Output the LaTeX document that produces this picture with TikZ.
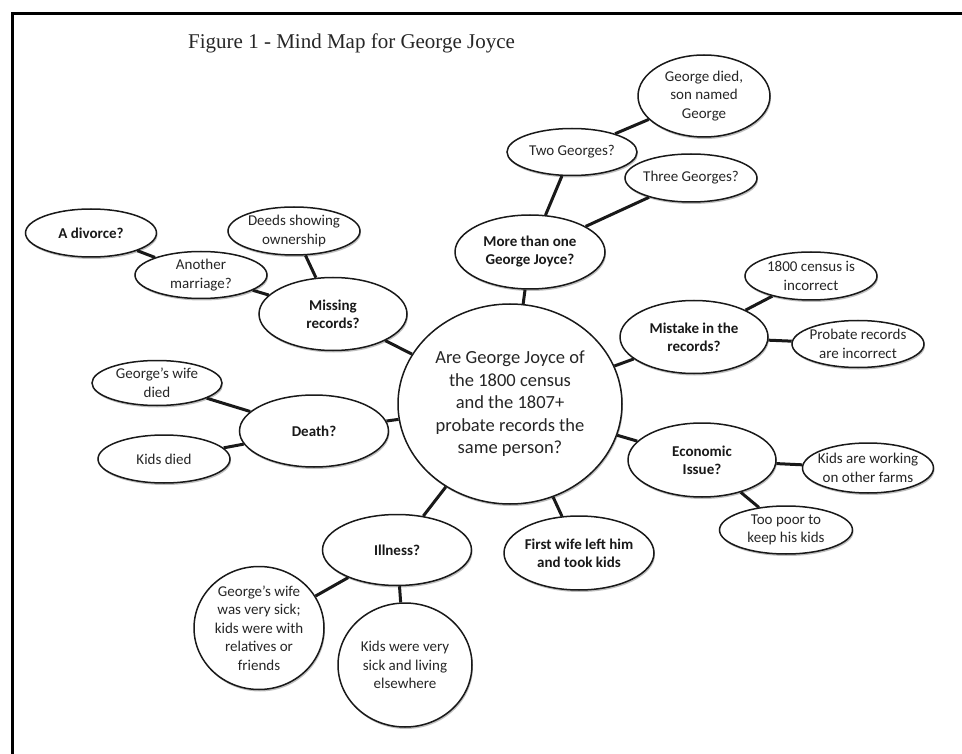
\documentclass[tikz,border=0pt]{standalone}
\usepackage{fontspec}
\setmainfont{Carlito}
\newfontfamily\titlefont{Liberation Serif}
\usetikzlibrary{shapes.geometric,shadows}
\tikzset{
  bub/.style={ellipse, draw=black!90, line width=1.5pt, fill=white, inner sep=0pt,
    drop shadow={shadow xshift=1pt, shadow yshift=-2pt, opacity=0.25, fill=black}},
  txt/.style={font=\fontsize{15}{18.5}\selectfont, align=center, inner sep=0pt, text=black!85},
  btxt/.style={font=\fontsize{15}{18}\selectfont\bfseries, align=center, inner sep=0pt, text=black!90},
  ctxt/.style={font=\fontsize{18.5}{22.5}\selectfont, align=center, inner sep=0pt, text=black!85},
  link/.style={line width=3pt, draw=black!90},
  frame/.style={line width=3pt}
}
\begin{document}
\begin{tikzpicture}[x=1pt,y=-1pt]
\useasboundingbox (0,0) rectangle (962,754);
% frame
\coordinate (fb) at (12.5,754);
\coordinate (fc) at (12.5,13.3);
\coordinate (fr) at (962,13.3);
\draw[frame] (fb) -- (fc) -- (fr);
% title
\node[anchor=base west, inner sep=0pt, font=\titlefont\fontsize{21}{24}\selectfont, text=black!85] (title) at (188,49) {Figure 1 - Mind Map for George Joyce};

% central
\node[bub, minimum width=224pt, minimum height=200pt, label={[ctxt]center:Are George Joyce of\\the 1800 census\\and the 1807+\\probate records the\\same person?}] (c) at (510,404) {};

% more than one
\node[bub, minimum width=150pt, minimum height=74pt, label={[btxt]center:More than one\\George Joyce?}] (more) at (530,252) {};
\node[bub, minimum width=130pt, minimum height=47pt, label={[txt]center:Two Georges?}] (two) at (572,152) {};
\node[bub, minimum width=132pt, minimum height=48pt, label={[txt]center:Three Georges?}] (three) at (691,178) {};
\node[bub, minimum width=132pt, minimum height=82pt, label={[txt]center:{George died,\\son named\\George}}] (died) at (704,96) {};

% mistake
\node[bub, minimum width=148pt, minimum height=73pt, label={[btxt]center:Mistake in the\\records?}] (mist) at (694,337) {};
\node[bub, minimum width=132pt, minimum height=48pt, label={[txt]center:1800 census is\\incorrect}] (cens) at (811,276) {};
\node[bub, minimum width=132pt, minimum height=47pt, label={[txt]center:Probate records\\are incorrect}] (prob) at (858,344) {};

% economic
\node[bub, minimum width=148pt, minimum height=74pt, label={[btxt]center:Economic\\Issue?}] (eco) at (702,460) {};
\node[bub, minimum width=131pt, minimum height=50pt, label={[txt]center:Kids are working\\on other farms}] (work) at (868,468) {};
\node[bub, minimum width=133pt, minimum height=48pt, label={[txt]center:Too poor to\\keep his kids}] (poor) at (786,530) {};

% first wife
\node[bub, minimum width=150pt, minimum height=74pt, label={[btxt]center:First wife left him\\and took kids}] (first) at (579,553) {};

% illness
\node[bub, minimum width=149pt, minimum height=71pt, label={[btxt]center:Illness?}] (ill) at (397,550) {};
\node[bub, minimum width=130pt, minimum height=123pt, label={[txt]center:George’s wife\\was very sick;\\kids were with\\relatives or\\friends}] (wsick) at (259,628) {};
\node[bub, minimum width=134pt, minimum height=124pt, label={[txt]center:Kids were very\\sick and living\\elsewhere}] (ksick) at (405,665) {};

% death
\node[bub, minimum width=149pt, minimum height=72pt, label={[btxt]center:Death?}] (death) at (314,431) {};
\node[bub, minimum width=130pt, minimum height=45pt, label={[txt]center:George’s wife\\died}] (wdied) at (157,383) {};
\node[bub, minimum width=132pt, minimum height=48pt, label={[txt]center:Kids died}] (kdied) at (164,459) {};

% missing
\node[bub, minimum width=148pt, minimum height=73pt, label={[btxt]center:Missing\\records?}] (miss) at (333,314) {};
\node[bub, minimum width=132pt, minimum height=48pt, label={[txt]center:Deeds showing\\ownership}] (deeds) at (294,231) {};
\node[bub, minimum width=132pt, minimum height=47pt, label={[txt]center:Another\\marriage?}] (anoth) at (201,275) {};
\node[bub, minimum width=131pt, minimum height=48pt, label={[btxt]center:A divorce?}] (div) at (91,233) {};

% connectors
\draw[link] (c) -- (more);
\draw[link] (more) -- (two);
\draw[link] (more) -- (three);
\draw[link] (two) -- (died);
\draw[link] (c) -- (mist);
\draw[link] (mist) -- (cens);
\draw[link] (mist) -- (prob);
\draw[link] (c) -- (eco);
\draw[link] (eco) -- (work);
\draw[link] (eco) -- (poor);
\draw[link] (c) -- (first);
\draw[link] (c) -- (ill);
\draw[link] (ill) -- (wsick);
\draw[link] (ill) -- (ksick);
\draw[link] (c) -- (death);
\draw[link] (death) -- (wdied);
\draw[link] (death) -- (kdied);
\draw[link] (c) -- (miss);
\draw[link] (miss) -- (deeds);
\draw[link] (miss) -- (anoth);
\draw[link] (anoth) -- (div);
\end{tikzpicture}
\end{document}
